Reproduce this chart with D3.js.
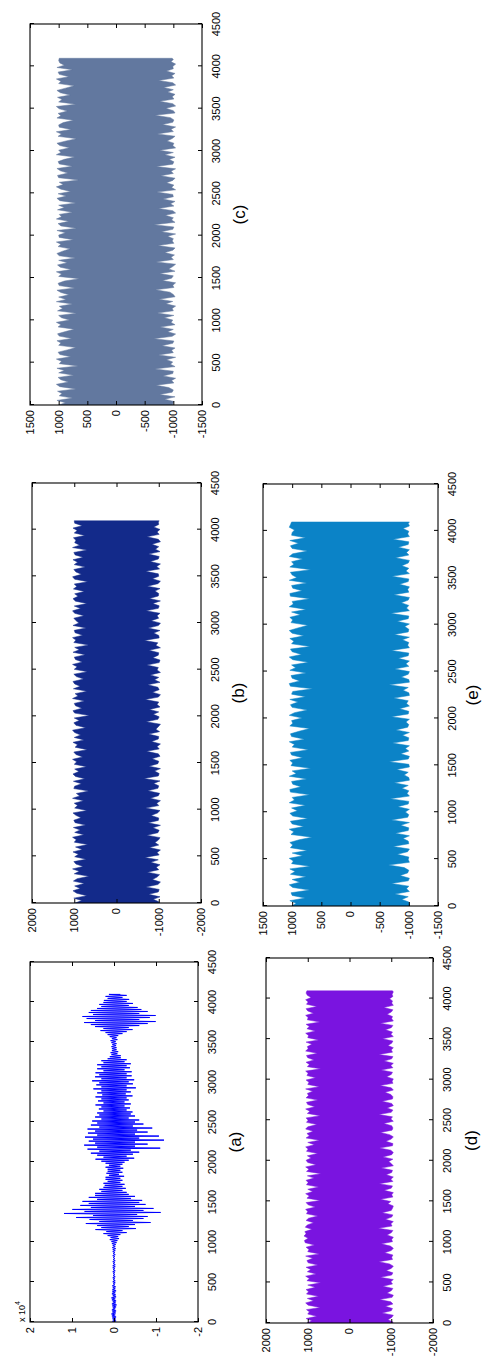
<!DOCTYPE html>
<html><head><meta charset="utf-8">
<script src="https://cdn.jsdelivr.net/npm/d3@7"></script>
<style>body{margin:0;background:#fff}svg{display:block}</style>
</head><body>
<script>
// ---------- data ----------
const signalLength = 4096;
const xTicks = [0,500,1000,1500,2000,2500,3000,3500,4000,4500];
const panelLabels = ["(a)","(b)","(c)","(d)","(e)"];
const yTicksA = [-2,-1,0,1,2];            // x 10^4
const yTicksB = [-2000,-1000,0,1000,2000];
const yTicksC = [-1500,-1000,-500,0,500,1000,1500];
const yTicksD = [-2000,-1000,0,1000,2000];
const yTicksE = [-1500,-1000,-500,0,500,1000,1500];

// (a): positive / negative peaks, ~25-sample spacing, in units of 10^4
const aUpper = [
 .05,.03,.04,.05, .06,.04,.05,.03, .04,.05,.03,.05, .06,.03,.05,.04,
 .04,.03,.04,.02, .03,.02,.03,.02, .02,.03,.02,.03, .03,.02,.03,.02,
 .02,.03,.02,.03, .03,.04,.03,.05, .06,.1,.08,.15, .25,.18,.44,.3,
 .4,.67,.35,.58, .9,.5,1.19,.7, .99,.55,.8,.6, .75,.4,.6,.45,
 .45,.3,.35,.25, .22,.25,.15,.2, .2,.12,.18,.15, .15,.2,.12,.2,
 .3,.44,.25,.4, .55,.35,.63,.4, .71,.45,.6,.5, .69,.4,.62,.45,
 .63,.35,.55,.4, .52,.3,.45,.35, .4,.25,.36,.3, .44,.25,.38,.3,
 .44,.28,.4,.3, .49,.3,.42,.35, .52,.3,.45,.35, .44,.25,.4,.3,
 .4,.25,.3,.15, .1,.06,.08,.05, .05,.06,.04,.06, .08,.05,.1,.15,
 .2,.32,.25,.45, .55,.71,.45,.65, .75,.5,.6,.55, .4,.3,.35,.25,
 .24,.15,.2,.12];
const aLower = [
 -.05,-.04,-.05,-.03, -.04,-.05,-.03,-.05, -.06,-.04,-.05,-.03, -.05,-.04,-.03,-.05,
 -.03,-.04,-.02,-.03, -.03,-.02,-.03,-.02, -.02,-.03,-.02,-.03, -.03,-.02,-.03,-.02,
 -.02,-.03,-.02,-.03, -.04,-.03,-.04,-.06, -.08,-.12,-.1,-.15, -.3,-.2,-.52,-.35,
 -.5,-.87,-.45,-.7, -.8,-.55,-1.11,-.7, -.94,-.5,-.75,-.6, -.67,-.4,-.5,-.35,
 -.3,-.2,-.28,-.2, -.25,-.15,-.2,-.15, -.24,-.12,-.2,-.15, -.22,-.15,-.2,-.25,
 -.35,-.48,-.3,-.45, -.6,-.4,-1.1,-.5, -.8,-.5,-1.19,-.6, -1.07,-.5,-.8,-.55,
 -.91,-.45,-.7,-.5, -.6,-.35,-.5,-.4, -.44,-.3,-.38,-.25, -.4,-.25,-.35,-.3,
 -.44,-.28,-.4,-.3, -.52,-.3,-.45,-.35, -.48,-.3,-.42,-.3, -.42,-.25,-.38,-.3,
 -.4,-.25,-.3,-.16, -.16,-.08,-.1,-.06, -.06,-.05,-.06,-.04, -.08,-.06,-.1,-.2,
 -.3,-.44,-.35,-.6, -.8,-.99,-.6,-.85, -.99,-.6,-.8,-.65, -.56,-.35,-.45,-.3,
 -.36,-.2,-.3,-.15];

// (b)-(e): positive / negative peaks, ~25-sample spacing
const bUpper = [980,820,1010,700,940,1030,860,990,760,1020,930,650,1000,880,1040,790,960,1010,720,990,
 900,1030,810,970,680,1000,950,1040,770,990,860,1020,730,980,1010,840,960,1030,700,990,
 920,1000,780,1040,870,950,660,1010,990,830,1020,750,970,1030,890,990,710,1000,940,1040,
 800,960,1010,690,980,920,1030,770,1000,850,990,1040,730,960,1010,880,1000,640,990,1030,
 820,970,1000,760,1040,910,980,700,1020,860,990,1030,780,950,1010,690,1000,930,1040,810,
 970,1000,740,1030,880,990,660,1010,960,1040,800,980,1000,720,1030,890,960,1010,770,990,
 1040,850,1000,700,970,1030,910,990,760,1020,940,1000,680,990,1040,830,960,1010,740,1000,
 920,1030,790,980,1010,700,1040,870,990,960,1020,750,1000,930,1030,810,990,1000];
const bLower = [-1000,-870,-1030,-760,-990,-1010,-700,-980,-1040,-850,-960,-1020,-730,-1000,-940,-1030,-810,-990,-670,-1010,
 -960,-1040,-780,-1000,-910,-990,-1030,-720,-980,-1010,-860,-1040,-750,-990,-1000,-820,-970,-1030,-690,-1000,
 -950,-1040,-800,-990,-1020,-740,-980,-1000,-880,-1030,-650,-990,-1010,-900,-1040,-770,-980,-1000,-840,-1030,
 -990,-710,-1010,-960,-1040,-830,-990,-1000,-760,-1020,-930,-990,-1040,-700,-980,-1010,-870,-1000,-780,-1030,
 -960,-1000,-680,-990,-1040,-850,-1010,-980,-740,-1030,-900,-1000,-800,-1040,-960,-990,-720,-1010,-1030,-860,
 -990,-1000,-770,-1040,-930,-980,-660,-1010,-1000,-880,-1030,-750,-990,-1040,-820,-1000,-960,-1030,-700,-990,
 -1010,-860,-1040,-780,-990,-1000,-910,-1030,-730,-980,-1040,-850,-1000,-990,-690,-1020,-950,-1040,-800,-990,
 -1010,-760,-1030,-920,-1000,-840,-1040,-990,-720,-1010,-960,-1030,-880,-1000,-990,-1010];

const cUpper = [1000,880,1030,760,990,940,1020,700,980,1040,830,960,1010,740,1000,900,1030,660,990,950,
 1040,790,980,1010,850,700,1000,960,1030,770,990,1020,880,730,1010,960,1040,810,950,1000,
 690,1020,930,990,760,1040,870,1000,820,960,1030,720,990,1010,900,640,1000,950,1040,780,
 970,1020,850,1000,710,990,1030,930,800,1010,960,1040,740,990,1000,880,1030,690,960,1010,
 820,1040,950,990,760,1020,900,1000,700,980,1030,870,1010,790,960,1040,920,990,650,1000,
 1020,840,970,1030,760,990,1010,900,720,1040,960,1000,810,980,1030,870,690,1010,950,1040,
 780,990,1000,920,740,1030,960,1010,850,990,1040,700,1000,940,1020,800,970,1030,880,730,
 1000,960,1040,820,990,1010,760,1030,900,980,1000,990];
const cLower = [-990,-1010,-850,-1030,-760,-980,-1000,-920,-700,-1010,-970,-1040,-820,-990,-1000,-680,-1030,-950,-990,-880,
 -1040,-740,-1000,-970,-1030,-800,-990,-1010,-660,-980,-1040,-900,-1000,-770,-1030,-960,-990,-840,-1010,-720,
 -1000,-980,-1040,-870,-990,-750,-1030,-1000,-940,-690,-1010,-990,-1040,-810,-970,-1000,-760,-1030,-920,-990,
 -1040,-700,-1000,-960,-1020,-850,-990,-1030,-730,-1010,-980,-1000,-900,-1040,-790,-990,-1010,-660,-1030,-970,
 -1000,-860,-1040,-990,-740,-1010,-950,-1030,-820,-1000,-990,-710,-1040,-970,-1010,-880,-990,-1030,-780,-1000,
 -960,-1040,-700,-990,-1010,-930,-1030,-850,-1000,-760,-1040,-990,-1010,-890,-980,-1030,-720,-1000,-960,-1040,
 -810,-990,-1010,-950,-680,-1030,-1000,-870,-1040,-990,-760,-1010,-980,-1030,-900,-1000,-830,-1040,-990,-740,
 -1010,-970,-1030,-880,-1000,-990,-1040,-960,-1000,-980];

const dUpper = [1020,900,1040,780,1000,960,1030,700,990,1050,860,1010,740,1030,980,1040,820,1000,690,1020,
 960,1050,800,1010,930,1040,760,990,1020,880,1050,720,1000,970,1040,840,1060,1080,990,1090,
 1040,1070,900,1060,1010,860,1040,980,760,1030,1000,1050,820,990,1040,700,1020,960,1050,880,
 1000,740,1030,990,1040,850,1010,680,1030,970,1050,800,1000,1040,920,1010,760,1030,990,1050,
 840,1000,720,1040,960,1020,870,1050,1000,780,1030,990,1040,700,1010,950,1050,830,1000,1030,
 760,1040,980,1010,880,1050,720,1000,970,1040,810,1020,990,1050,690,1010,960,1040,850,1000,
 1030,770,1050,990,1010,900,1040,740,1000,980,1050,820,1020,960,1040,710,1010,990,1050,860,
 1000,1040,780,1030,990,1050,920,1010,1040,1020];
const dLower = [-1040,-920,-1010,-1050,-780,-1000,-1030,-860,-1040,-990,-720,-1020,-1050,-900,-1000,-1040,-800,-1030,-990,-1050,
 -740,-1010,-1040,-880,-1000,-1050,-960,-700,-1030,-1010,-1040,-840,-1000,-1050,-980,-760,-1030,-1010,-1050,-900,
 -1000,-1040,-690,-1020,-990,-1050,-860,-1010,-1040,-780,-1000,-1030,-1050,-920,-990,-740,-1040,-1010,-1050,-830,
 -1000,-1030,-710,-1040,-990,-1050,-880,-1010,-1030,-760,-1050,-1000,-940,-1040,-800,-1010,-1050,-990,-720,-1030,
 -1040,-870,-1000,-1050,-960,-740,-1020,-1040,-1010,-820,-1050,-990,-1030,-700,-1000,-1040,-900,-1050,-1010,-780,
 -1030,-1040,-990,-850,-1050,-1000,-730,-1040,-1020,-1050,-890,-1000,-1030,-760,-1040,-990,-1050,-830,-1010,-1040,
 -700,-1030,-1000,-1050,-920,-1010,-1040,-790,-1050,-990,-1030,-860,-1000,-1040,-740,-1050,-1010,-1030,-900,-1000,
 -1040,-820,-1050,-1010,-1030,-960,-1040,-1020,-1050,-1030];

const eUpper = [1010,930,1040,780,1000,1020,700,990,1050,870,1000,760,1030,950,1040,690,1010,980,1050,820,
 1000,740,1030,990,1040,880,660,1020,970,1050,800,1000,1030,730,990,1040,910,1010,770,1050,
 960,1000,700,1030,1040,850,990,1010,750,1050,930,1000,680,1020,990,1040,820,1010,1030,720,
 1000,960,1050,790,1010,1030,880,700,1040,990,1010,830,1050,960,740,1000,1030,900,1040,770,
 1010,990,650,1030,1050,870,1000,1020,760,1040,940,1010,720,990,1050,840,1000,1030,690,1010,
 970,1040,800,1000,1050,900,730,1020,990,1040,860,1010,760,1050,980,1000,700,1030,1040,830,
 990,1010,750,1050,920,1000,1030,680,1040,970,1010,820,1050,990,740,1000,1030,890,1040,770,
 1010,1000,960,1050,1030,1010];
const eLower = [-1010,-1000,-880,-990,-760,-1010,-960,-1000,-700,-990,-1010,-850,-980,-1000,-920,-650,-1010,-990,-1000,-800,
 -980,-1010,-730,-1000,-990,-900,-1010,-770,-990,-1000,-860,-1010,-700,-980,-1000,-940,-1010,-810,-990,-1000,
 -680,-1010,-970,-1000,-880,-990,-750,-1010,-1000,-920,-990,-790,-1010,-1000,-660,-990,-1010,-860,-1000,-940,
 -1010,-720,-990,-1000,-890,-1010,-780,-980,-1000,-950,-1010,-700,-990,-1000,-840,-1010,-960,-990,-740,-1010,
 -1000,-900,-990,-660,-1010,-1000,-870,-990,-1010,-760,-1000,-950,-1010,-820,-990,-1000,-700,-1010,-980,-1000,
 -890,-1010,-750,-990,-1000,-930,-1010,-800,-990,-1000,-690,-1010,-960,-1000,-870,-990,-1010,-740,-1000,-980,
 -1010,-840,-990,-1000,-710,-1010,-950,-1000,-880,-990,-1010,-770,-1000,-960,-1010,-820,-990,-1000,-730,-1010,
 -980,-1000,-900,-1010,-990,-1010];

// ---------- layout ----------
const W = 484, H = 1358;          // page; the figure is drawn rotated -90deg
const FONT = "'Liberation Sans', Arial, Helvetica, sans-serif";
const panels = [
  {label:panelLabels[0], x0:36,  x1:396,  y0:30,  y1:198, yDomain:[-2,2],       yTicks:yTicksA, color:"#0000ff", up:aUpper, lo:aLower, mode:"line", exp:true, labY:240.5},
  {label:panelLabels[1], x0:455, x1:875,  y0:32,  y1:201, yDomain:[-2000,2000], yTicks:yTicksB, color:"#132a8a", up:bUpper, lo:bLower, mode:"band", labY:243.5},
  {label:panelLabels[2], x0:953, x1:1334, y0:30,  y1:202, yDomain:[-1500,1500], yTicks:yTicksC, color:"#62789f", up:cUpper, lo:cLower, mode:"band", labY:244.5},
  {label:panelLabels[3], x0:35,  x1:400,  y0:266, y1:433, yDomain:[-2000,2000], yTicks:yTicksD, color:"#7a14e0", up:dUpper, lo:dLower, mode:"band", labY:477},
  {label:panelLabels[4], x0:452, x1:874,  y0:263, y1:438, yDomain:[-1500,1500], yTicks:yTicksE, color:"#0b83c7", up:eUpper, lo:eLower, mode:"band", labY:477.5}
];

const svg = d3.select("body").append("svg").attr("width", W).attr("height", H);
const root = svg.append("g").attr("transform", `translate(0,${H}) rotate(-90)`);
const last = signalLength - 1;

panels.forEach((p, k) => {
  const x = d3.scaleLinear().domain([0, 4500]).range([p.x0, p.x1]);
  const y = d3.scaleLinear().domain(p.yDomain).range([p.y1, p.y0]);
  const g = root.append("g");
  const clipId = "clip" + k;
  g.append("clipPath").attr("id", clipId).append("rect")
    .attr("x", p.x0).attr("y", p.y0).attr("width", p.x1 - p.x0).attr("height", p.y1 - p.y0);

  const su = last / (p.up.length - 1), sl = last / (p.lo.length - 1);
  const line = d3.line().x(d => x(d[0])).y(d => y(d[1]));
  if (p.mode === "band") {
    const pts = p.up.map((v, i) => [i * su, v]);
    for (let i = p.lo.length - 1; i >= 0; i--) pts.push([Math.min(i * sl + sl / 2, last), p.lo[i]]);
    pts.push([0, p.lo[0]]);
    g.append("path").attr("clip-path", `url(#${clipId})`)
      .attr("d", line.curve(d3.curveLinearClosed)(pts))
      .attr("fill", p.color).attr("stroke", p.color).attr("stroke-width", 0.5)
      .attr("stroke-linejoin", "bevel");
  } else {
    const pts = [];
    p.up.forEach((v, i) => {
      pts.push([i * su, v]);
      if (i < p.lo.length) pts.push([Math.min(i * sl + sl / 2, last), p.lo[i]]);
    });
    g.append("path").attr("clip-path", `url(#${clipId})`)
      .attr("d", line.curve(d3.curveLinear)(pts))
      .attr("fill", "none").attr("stroke", p.color).attr("stroke-width", 1)
      .attr("stroke-linejoin", "bevel");
  }

  // ticks (inward on all four sides)
  const tk = 4;
  const axB = g.append("g").attr("transform", `translate(0,${p.y1})`).call(d3.axisBottom(x).tickValues(xTicks).tickSize(-tk).tickFormat(""));
  const axT = g.append("g").attr("transform", `translate(0,${p.y0})`).call(d3.axisTop(x).tickValues(xTicks).tickSize(-tk).tickFormat(""));
  const axL = g.append("g").attr("transform", `translate(${p.x0},0)`).call(d3.axisLeft(y).tickValues(p.yTicks).tickSize(-tk).tickFormat(""));
  const axR = g.append("g").attr("transform", `translate(${p.x1},0)`).call(d3.axisRight(y).tickValues(p.yTicks).tickSize(-tk).tickFormat(""));
  [axB, axT, axL, axR].forEach(a => {
    a.select(".domain").remove();
    a.selectAll("line").attr("stroke", "#000").attr("stroke-width", 1);
  });

  // box
  g.append("rect").attr("x", p.x0).attr("y", p.y0).attr("width", p.x1 - p.x0).attr("height", p.y1 - p.y0)
    .attr("fill", "none").attr("stroke", "#000").attr("stroke-width", 1.1);

  // tick labels
  g.selectAll("text.xl").data(xTicks).join("text").attr("class", "xl")
    .attr("x", d => x(d)).attr("y", p.y1 + 17.5)
    .attr("text-anchor", "middle").attr("font-family", FONT).attr("font-size", 11).attr("fill", "#000")
    .text(d => String(d));
  g.selectAll("text.yl").data(p.yTicks).join("text").attr("class", "yl")
    .attr("x", p.x0 - 5).attr("y", d => y(d)).attr("dy", "0.36em")
    .attr("text-anchor", "end").attr("font-family", FONT).attr("font-size", 11).attr("fill", "#000")
    .text(d => String(d));

  if (p.exp) {
    const t = g.append("text").attr("x", p.x0).attr("y", p.y0 - 5)
      .attr("font-family", FONT).attr("font-size", 9).attr("fill", "#000");
    t.append("tspan").text("x 10");
    t.append("tspan").attr("dy", -5).attr("font-size", 7).text("4");
  }

  // panel label
  g.append("text").attr("x", (p.x0 + p.x1) / 2).attr("y", p.labY)
    .attr("text-anchor", "middle").attr("font-family", FONT).attr("font-size", 17).attr("fill", "#000")
    .text(p.label);
});
</script>
</body></html>
